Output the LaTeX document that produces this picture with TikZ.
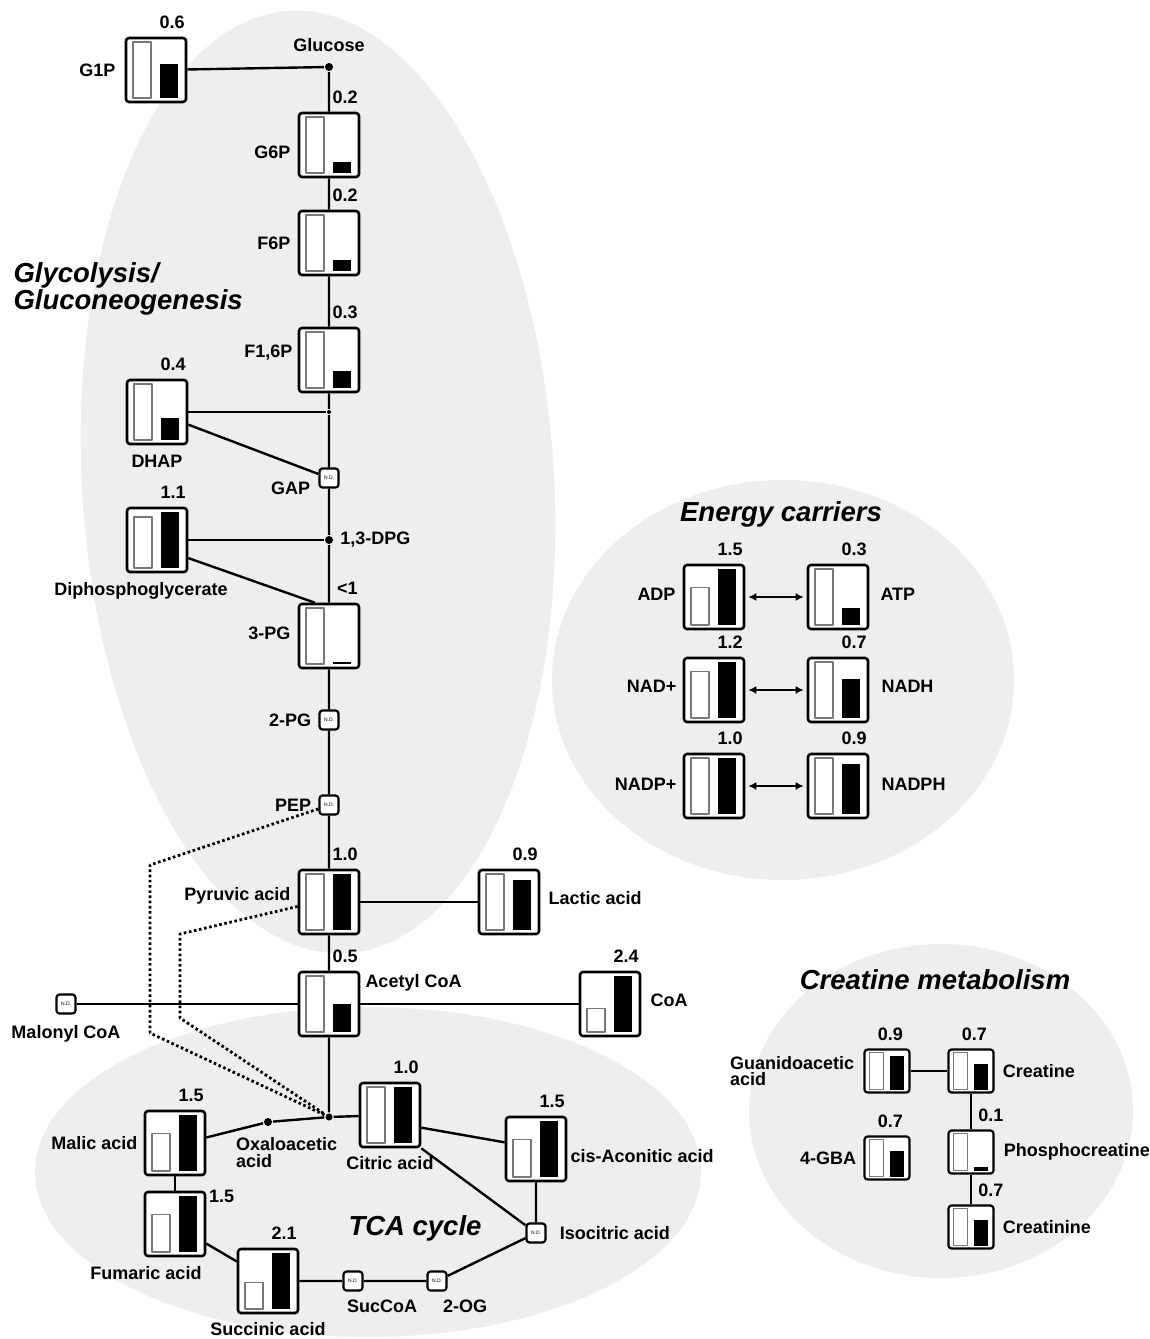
\documentclass[tikz,border=0pt]{standalone}
\usepackage{fontspec}
\setmainfont{Liberation Sans}
\usetikzlibrary{positioning,arrows.meta}
\definecolor{bubble}{RGB}{238,238,238}
\definecolor{ctlgray}{RGB}{120,120,120}
\newcommand\lfont{\fontsize{18}{18}\selectfont\bfseries}
\newcommand\tfont{\fontsize{27.5}{24}\selectfont\bfseries\itshape}

% control (white) and treated (black) bar, ratio = treated/control
\newcommand\bars[3][]{%
  \pgfmathsetmacro\hC{#3>1 ? 56/#3 : 56}%
  \pgfmathsetmacro\hT{#3>1 ? 56 : 56*#3}%
  \begin{scope}[shift={(#2.center)},#1]
    \draw[ctl] (-23,28) rectangle (-5,{28-\hC});
    \fill (4,28) rectangle (22,{28-\hT});
  \end{scope}}
\newcommand\metab[5][anchor=south east]{%
  \node[met] (#2) at #3 {};
  \bars{#2}{#4}
  \node[val,#1] (#2v) at (#2.north east) {#5};}
\newcommand\smet[5][anchor=south east,xshift=-5pt]{%
  \node[met,sm] (#2) at #3 {};
  \bars[xscale=.75,yscale=.67]{#2}{#4}
  \node[val,#1] (#2v) at (#2.north east) {#5};}

\begin{document}
\begin{tikzpicture}[x=1pt,y=-1pt,line width=2.4pt,line join=round,font=\lfont,
  >={Latex[length=8pt,width=8pt]},
  met/.style={draw,fill=white,rounded corners=3pt,line width=2.6pt,
    minimum width=60pt,minimum height=64pt,inner sep=0pt},
  sm/.style={minimum width=45pt,minimum height=43pt,line width=2.2pt},
  nd/.style={draw,fill=white,rounded corners=3pt,line width=2.2pt,
    minimum size=19pt,inner sep=0pt,font=\fontsize{5}{5}\selectfont},
  ctl/.style={draw=ctlgray,fill=white,line width=1.2pt},
  val/.style={inner xsep=1.5pt,inner ysep=7pt},
  lab/.style={inner sep=0pt},
  jdot/.style={circle,fill,inner sep=0pt,minimum size=8pt},
  dotline/.style={line width=2.8pt,dash pattern=on 2.6pt off 2.6pt},
  thinl/.style={line width=1.8pt},
  title/.style={font=\tfont}]
  \clip (0,0) rectangle (1150,1339);
  % the four grey pathway areas
  \fill[bubble,rotate around={3.5:(318,482)}] (318,482) ellipse [x radius=236,y radius=472];
  \fill[bubble] (783,680) ellipse [x radius=231,y radius=200];
  \fill[bubble] (368,1172) ellipse [x radius=333,y radius=165];
  \fill[bubble] (941,1111) ellipse [x radius=192,y radius=167];
  \node[title,align=left,anchor=north west] (glyT) at (9,258) {Glycolysis/\\Gluconeogenesis};
  \node[title] (enT) at (781,514) {Energy carriers};
  \node[title] (tcaT) at (415,1228) {TCA cycle};
  \node[title] (crT) at (935,980) {Creatine metabolism};

  % glycolysis
  \node[jdot] (glc) at (329,67) {};
  \node[lab,above=9pt of glc] (glcT) {Glucose};
  \metab{g1p}{(156,70)}{0.6}{0.6}
  \node[lab,left=8pt of g1p] (g1pT) {G1P};
  \metab{g6p}{(329,145)}{0.2}{0.2}
  \node[lab,left=6pt of g6p,yshift=-7pt] (g6pT) {G6P};
  \metab{f6p}{(329,243)}{0.2}{0.2}
  \node[lab,left=6pt of f6p] (f6pT) {F6P};
  \metab{f16p}{(329,360)}{0.3}{0.3}
  \node[lab,left=4pt of f16p,yshift=7pt] (f16pT) {F1,6P};
  \metab{dhap}{(157,412)}{0.4}{0.4}
  \node[lab,below=9pt of dhap] (dhapT) {DHAP};
  \node[jdot,minimum size=4pt] (dhj) at (329,412) {};
  \node[nd] (gap) at (329,478) {N.D.};
  \node[lab,left=7pt of gap.south west] (gapT) {GAP};
  \node[jdot] (dpg) at (329,540) {};
  \node[lab,right=5pt of dpg] (dpgT) {1,3-DPG};
  \metab{dpgl}{(157,540)}{1.1}{1.1}
  \node[lab,below=8pt of dpgl,xshift=-16pt] (dpglT) {Diphosphoglycerate};
  \metab{pg3}{(329,636)}{0.03}{<1}
  \node[lab,left=6pt of pg3,yshift=3pt] (pg3T) {3-PG};
  \node[nd] (pg2) at (329,720) {N.D.};
  \node[lab,left=6pt of pg2] (pg2T) {2-PG};
  \node[nd] (pep) at (329,805) {N.D.};
  \node[lab,left=6pt of pep] (pepT) {PEP};
  \metab{pyr}{(329,902)}{1.0}{1.0}
  \node[lab,left=6pt of pyr,yshift=6pt] (pyrT) {Pyruvic acid};
  \metab{lac}{(509,902)}{0.9}{0.9}
  \node[lab,right=7pt of lac,yshift=4pt] (lacT) {Lactic acid};
  \metab{acoa}{(329,1004)}{0.5}{0.5}
  \node[lab,anchor=west] (acoaT) at ([shift={(4,12)}]acoa.north east) {Acetyl CoA};
  \metab{coa}{(610,1004)}{2.4}{2.4}
  \node[lab,right=8pt of coa,yshift=4pt] (coaT) {CoA};
  \node[nd] (mal) at (66,1004) {N.D.};
  \node[lab,below=10pt of mal] (malT) {Malonyl CoA};

  % TCA cycle
  \node[jdot,minimum size=7pt] (jn) at (329,1117) {};
  \node[jdot] (oxa) at (268,1122) {};
  \node[lab,align=left,anchor=north west,font=\fontsize{18}{17}\selectfont\bfseries]
    (oxaT) at ([shift={(-33,14)}]oxa.center) {Oxaloacetic\\acid};
  \metab{cit}{(390,1115)}{1.0}{1.0}
  \node[lab,below=7pt of cit] (citT) {Citric acid};
  \metab{mala}{(175,1143)}{1.5}{1.5}
  \node[lab,left=5pt of mala] (malaT) {Malic acid};
  \metab[anchor=north west,inner ysep=0pt,yshift=2pt]{fum}{(175,1224)}{1.5}{1.5}
  \node[lab,below=8pt of fum,xshift=-29pt] (fumT) {Fumaric acid};
  \metab{succ}{(268,1281)}{2.1}{2.1}
  \node[lab,below=7pt of succ] (succT) {Succinic acid};
  \node[nd] (succoa) at (353,1281) {N.D.};
  \node[lab,below=7pt of succoa,xshift=29pt] (succoaT) {SucCoA};
  \node[nd] (og2) at (437,1281) {N.D.};
  \node[lab,below=7pt of og2,xshift=28pt] (og2T) {2-OG};
  \node[nd] (iso) at (536,1233) {N.D.};
  \node[lab,right=12pt of iso] (isoT) {Isocitric acid};
  \metab{cis}{(536,1149)}{1.5}{1.5}
  \node[lab,right=2pt of cis,yshift=-7pt] (cisT) {cis-Aconitic acid};

  % energy carriers
  \metab{adp}{(714,597)}{1.5}{1.5}
  \node[lab,left=6pt of adp,yshift=3pt] (adpT) {ADP};
  \metab{atp}{(838,597)}{0.3}{0.3}
  \node[lab,right=10pt of atp,yshift=3pt] (atpT) {ATP};
  \metab{nad}{(714,690)}{1.2}{1.2}
  \node[lab,left=5pt of nad,yshift=4pt] (nadT) {NAD+};
  \metab{nadh}{(838,690)}{0.7}{0.7}
  \node[lab,right=11pt of nadh,yshift=4pt] (nadhT) {NADH};
  \metab{nadp}{(714,786)}{1.0}{1.0}
  \node[lab,left=5pt of nadp,yshift=2pt] (nadpT) {NADP+};
  \metab{nadph}{(838,786)}{0.9}{0.9}
  \node[lab,right=11pt of nadph,yshift=2pt] (nadphT) {NADPH};

  % creatine metabolism
  \smet{gaa}{(887,1071)}{0.9}{0.9}
  \node[lab,left=8pt of gaa,align=left,font=\fontsize{18}{16.5}\selectfont\bfseries]
    (gaaT) {Guanidoacetic\\acid};
  \smet{cre}{(971,1071)}{0.7}{0.7}
  \node[lab,right=7pt of cre] (creT) {Creatine};
  \smet{gba}{(887,1158)}{0.7}{0.7}
  \node[lab,left=6pt of gba] (gbaT) {4-GBA};
  \smet[anchor=south west,xshift=-19pt]{pcr}{(971,1152)}{0.1}{0.1}
  \node[lab,right=8pt of pcr] (pcrT) {Phosphocreatine};
  \smet[anchor=south west,xshift=-19pt]{crn}{(971,1227)}{0.7}{0.7}
  \node[lab,right=7pt of crn] (crnT) {Creatinine};

  % connectors
  \draw (g1p) -- (glc) -- (g6p) -- (f6p) -- (f16p) -- (dhj) -- (gap) -- (dpg)
    -- (pg3) -- (pg2) -- (pep) -- (pyr) -- (acoa) -- (jn);
  \draw (dhap) -- (dhj);
  \draw (dhap.-22) -- (gap);
  \draw (dpgl) -- (dpg);
  \draw (dpgl.-30) -- (pg3.113);
  \draw (pyr) -- (lac);
  \draw (mal) -- (acoa) -- (coa);
  \draw[dotline] (pep.200) -- (150,865) -- (150,1033) -- (jn);
  \draw[dotline] (pyr.188) -- (180,934) -- (180,1018) -- (jn);
  \draw (mala.10) -- (oxa) -- (jn) -- (cit);
  \draw (cit.-22) -- (cis.168);
  \draw (cit.south east) -- (iso);
  \draw (cis) -- (iso) -- (og2) -- (succoa) -- (succ);
  \draw (mala) -- (fum);
  \draw (fum.-32) -- (succ.148);
  \draw[<->,line width=2pt,shorten <=3pt,shorten >=3pt] (adp) -- (atp);
  \draw[<->,line width=2pt,shorten <=3pt,shorten >=3pt] (nad) -- (nadh);
  \draw[<->,line width=2pt,shorten <=3pt,shorten >=3pt] (nadp) -- (nadph);
  \draw[thinl] (gaa) -- (cre) -- (pcr) -- (crn);
\end{tikzpicture}
\end{document}
